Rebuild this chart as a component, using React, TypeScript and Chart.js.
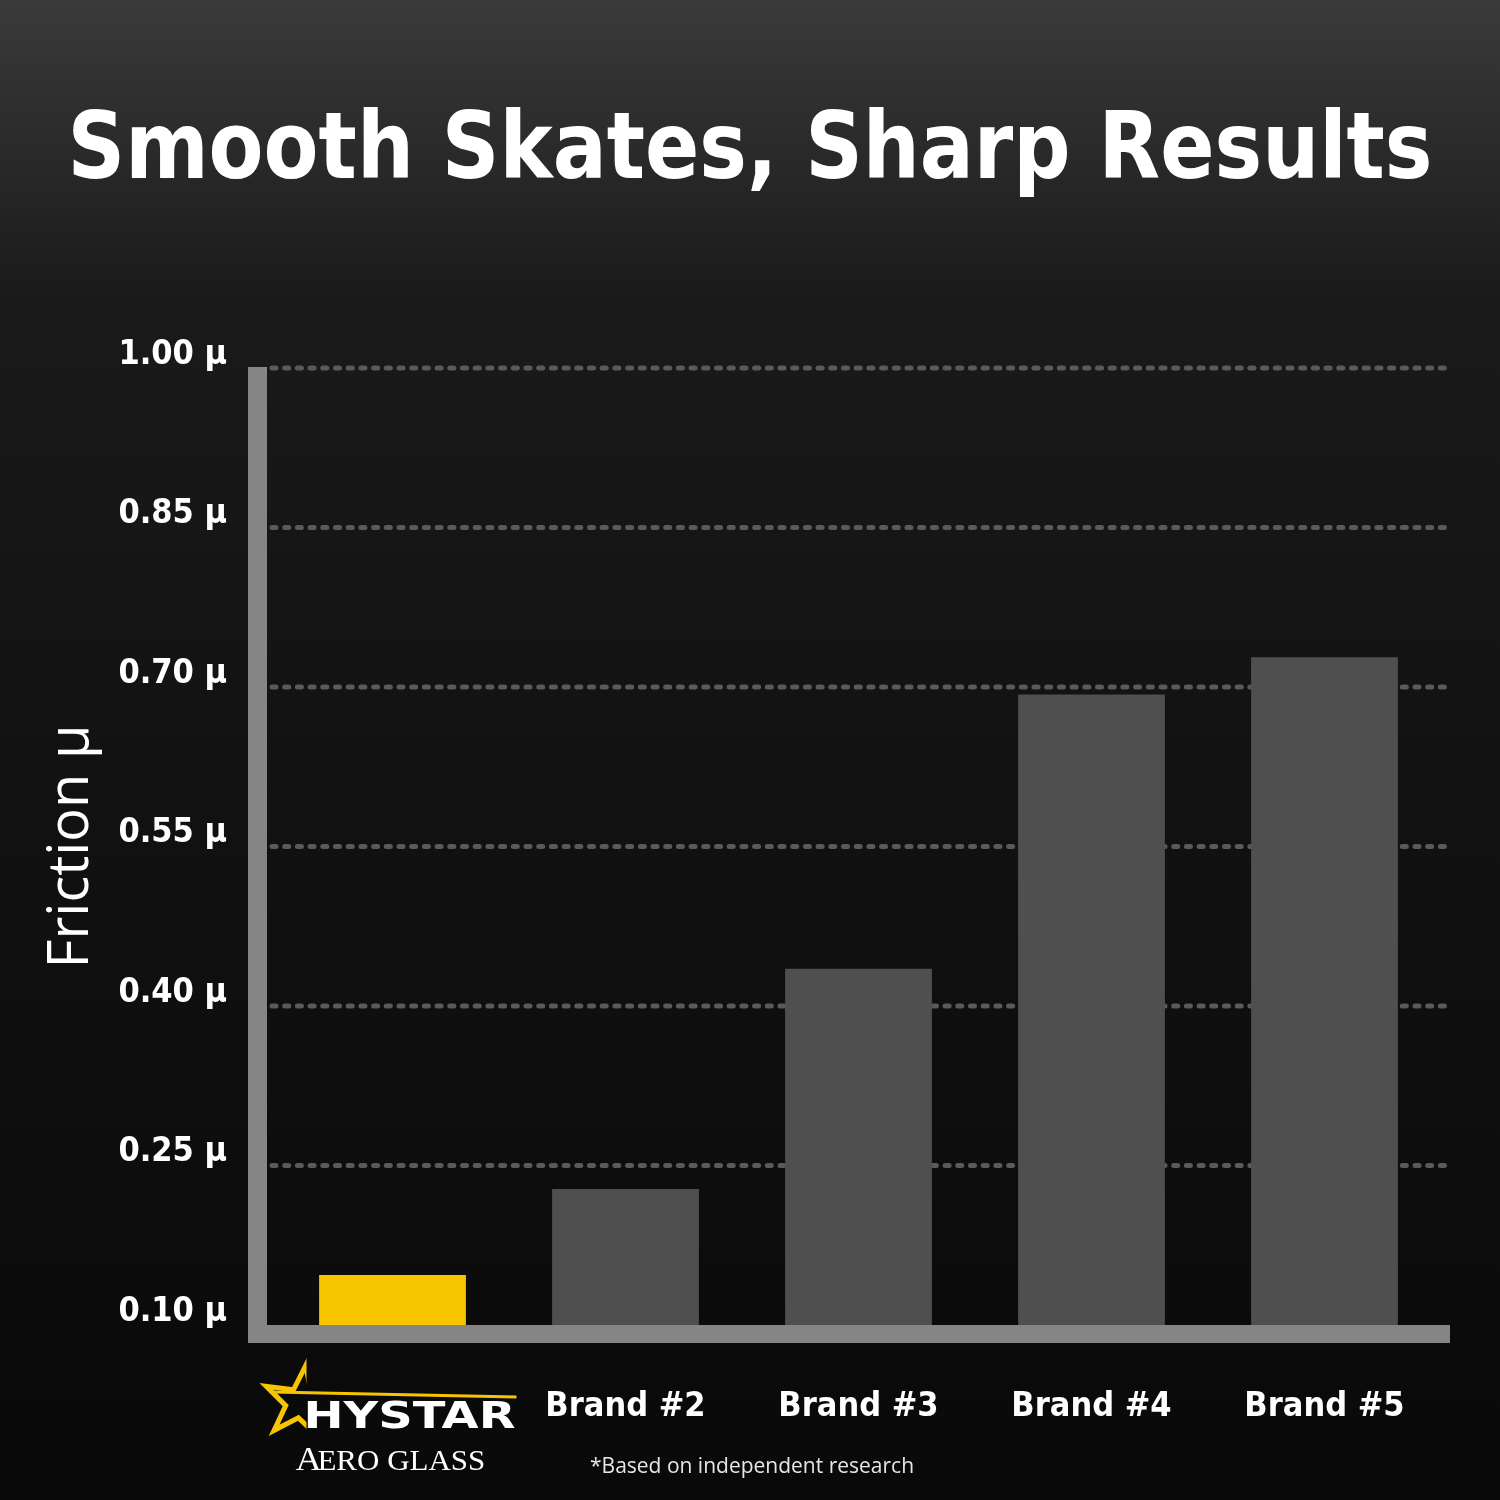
import React, { useEffect, useRef } from 'react';
import { Chart, registerables } from 'chart.js';

Chart.register(...registerables);

const TITLE = 'Smooth Skates, Sharp Results';
const categories = ['HYSTAR Aero Glass', 'Brand #2', 'Brand #3', 'Brand #4', 'Brand #5'];
const frictionValues = [0.147, 0.228, 0.435, 0.693, 0.728];
const barColors = ['#F7C500', '#4F4F4F', '#4F4F4F', '#4F4F4F', '#4F4F4F'];
const yTickValues = [0.1, 0.25, 0.4, 0.55, 0.7, 0.85, 1.0];
const yAxisTitle = 'Friction μ';
const FOOTNOTE = '*Based on independent research';
const LOGO_MAIN = 'HYSTAR';
const LOGO_SUB = 'AERO GLASS';

const BOLD_FAMILY = "'DejaVu Sans Condensed', 'DejaVu Sans', sans-serif";
const AXIS_COLOR = '#858585';
const GRID_COLOR = '#5a5a5a';
const YELLOW = '#F7C500';

const bgPlugin = {
  id: 'bg',
  beforeDraw(chart: any) {
    const { ctx, width, height } = chart;
    ctx.save();
    const g = ctx.createLinearGradient(0, 0, 0, height);
    g.addColorStop(0, '#3a3a3a');
    g.addColorStop(0.2, '#1a1a1a');
    g.addColorStop(0.5, '#121212');
    g.addColorStop(1, '#090909');
    ctx.fillStyle = g;
    ctx.fillRect(0, 0, width, height);
    ctx.fillStyle = '#ffffff';
    ctx.font = `bold 92px ${BOLD_FAMILY}`;
    ctx.textAlign = 'center';
    ctx.textBaseline = 'alphabetic';
    ctx.fillText(TITLE, width / 2, 178, 1365);
    ctx.restore();
  },
};

const gridPlugin = {
  id: 'dotGrid',
  beforeDatasetsDraw(chart: any) {
    const { ctx, chartArea, scales } = chart;
    const y = scales.y;
    ctx.save();
    ctx.strokeStyle = GRID_COLOR;
    ctx.lineWidth = 5;
    ctx.lineCap = 'round';
    ctx.setLineDash([4, 8.7]);
    yTickValues.forEach((v) => {
      if (v <= y.min) return;
      const py = y.getPixelForValue(v);
      ctx.beginPath();
      ctx.moveTo(chartArea.left - 4, py);
      ctx.lineTo(chartArea.right + 9, py);
      ctx.stroke();
    });
    ctx.restore();
  },
};

const axisPlugin = {
  id: 'thickAxes',
  afterDatasetsDraw(chart: any) {
    const { ctx, chartArea } = chart;
    ctx.save();
    ctx.fillStyle = AXIS_COLOR;
    ctx.fillRect(chartArea.left - 28, chartArea.top - 1, 19, chartArea.bottom - chartArea.top + 19);
    ctx.fillRect(chartArea.left - 28, chartArea.bottom, chartArea.right + 9 - (chartArea.left - 28), 18);
    ctx.restore();
  },
};

const decorPlugin = {
  id: 'decor',
  afterDraw(chart: any) {
    const { ctx, scales } = chart;
    const cx = scales.x.getPixelForValue(0);
    ctx.save();
    // star outline
    ctx.save();
    ctx.beginPath();
    ctx.rect(0, 1300, cx - 86, 200);
    ctx.clip();
    const scx = cx - 92;
    const scy = 1403;
    const R = 38;
    const r = 15;
    ctx.beginPath();
    for (let i = 0; i < 10; i++) {
      const ang = (-82 + i * 36) * Math.PI / 180;
      const rad = i % 2 === 0 ? R : r;
      const px = scx + rad * Math.cos(ang);
      const py = scy + rad * Math.sin(ang);
      if (i === 0) ctx.moveTo(px, py);
      else ctx.lineTo(px, py);
    }
    ctx.closePath();
    ctx.strokeStyle = YELLOW;
    ctx.lineWidth = 5;
    ctx.lineJoin = 'miter';
    ctx.stroke();
    ctx.restore();
    // swoosh line
    ctx.beginPath();
    ctx.moveTo(cx - 120, 1392);
    ctx.lineTo(cx + 124, 1397);
    ctx.strokeStyle = YELLOW;
    ctx.lineWidth = 3;
    ctx.stroke();
    // HYSTAR
    ctx.fillStyle = '#ffffff';
    ctx.font = "bold 38px 'DejaVu Sans', sans-serif";
    ctx.textAlign = 'left';
    ctx.textBaseline = 'alphabetic';
    const w1 = ctx.measureText(LOGO_MAIN).width;
    ctx.save();
    ctx.translate(cx - 89, 1428);
    ctx.scale(212 / w1, 1);
    ctx.fillText(LOGO_MAIN, 0, 0);
    ctx.restore();
    // AERO GLASS
    ctx.font = "34px 'Liberation Serif', serif";
    const first = LOGO_SUB[0];
    const rest = LOGO_SUB.slice(1);
    const wA = ctx.measureText(first).width;
    ctx.font = "29px 'Liberation Serif', serif";
    const wR = ctx.measureText(rest).width;
    const total = wA + wR;
    const sx = 194 / total;
    ctx.save();
    ctx.translate(cx - 97, 1470);
    ctx.scale(sx, 1);
    ctx.font = "34px 'Liberation Serif', serif";
    ctx.fillText(first, 0, 0);
    ctx.font = "29px 'Liberation Serif', serif";
    ctx.fillText(rest, wA - 4, 0);
    ctx.restore();
    // footnote
    ctx.font = "21px 'Open Sans', sans-serif";
    ctx.fillStyle = '#e6e6e6';
    ctx.fillText(FOOTNOTE, 590, 1473);
    ctx.restore();
  },
};

export default function App() {
  const ref = useRef<HTMLCanvasElement>(null);
  useEffect(() => {
    document.body.style.margin = '0';
    document.body.style.background = '#0a0a0a';
    const canvas = ref.current!;
    const chart = new Chart(canvas, {
      type: 'bar',
      data: {
        labels: categories,
        datasets: [
          {
            data: frictionValues,
            backgroundColor: barColors,
            borderWidth: 0,
            categoryPercentage: 1,
            barPercentage: 0.63,
          },
        ],
      },
      options: {
        responsive: false,
        animation: false,
        devicePixelRatio: 1,
        layout: { padding: { top: 368, right: 59, bottom: 0, left: 0 } },
        plugins: {
          legend: { display: false },
          tooltip: { enabled: false },
          title: { display: false },
        },
        scales: {
          x: {
            grid: { display: false, drawTicks: false },
            border: { display: false },
            ticks: {
              color: '#ffffff',
              font: { family: BOLD_FAMILY, weight: 'bold', size: 34 },
              padding: 62,
              maxRotation: 0,
              autoSkip: false,
              callback: (_v: any, i: number) => (i === 0 ? '' : categories[i]),
            },
            afterFit: (s: any) => {
              s.height = 175;
            },
          },
          y: {
            min: 0.1,
            max: 1.0,
            grid: { display: false, drawTicks: false },
            border: { display: false },
            afterBuildTicks: (s: any) => {
              s.ticks = yTickValues.map((v) => ({ value: v }));
            },
            ticks: {
              color: '#ffffff',
              font: { family: BOLD_FAMILY, weight: 'bold', size: 34 },
              padding: 49,
              labelOffset: -13,
              callback: (v: any) => Number(v).toFixed(2) + ' μ',
            },
            title: {
              display: true,
              text: yAxisTitle,
              color: '#ffffff',
              font: { family: "'Open Sans', sans-serif", size: 56, weight: 'normal' },
              padding: { top: 38, bottom: 0 },
            },
            afterFit: (s: any) => {
              s.width = 276;
            },
          },
        },
      },
      plugins: [bgPlugin, gridPlugin, axisPlugin, decorPlugin],
    } as any);
    return () => chart.destroy();
  }, []);
  return <canvas ref={ref} width={1500} height={1500} style={{ display: 'block' }} />;
}
